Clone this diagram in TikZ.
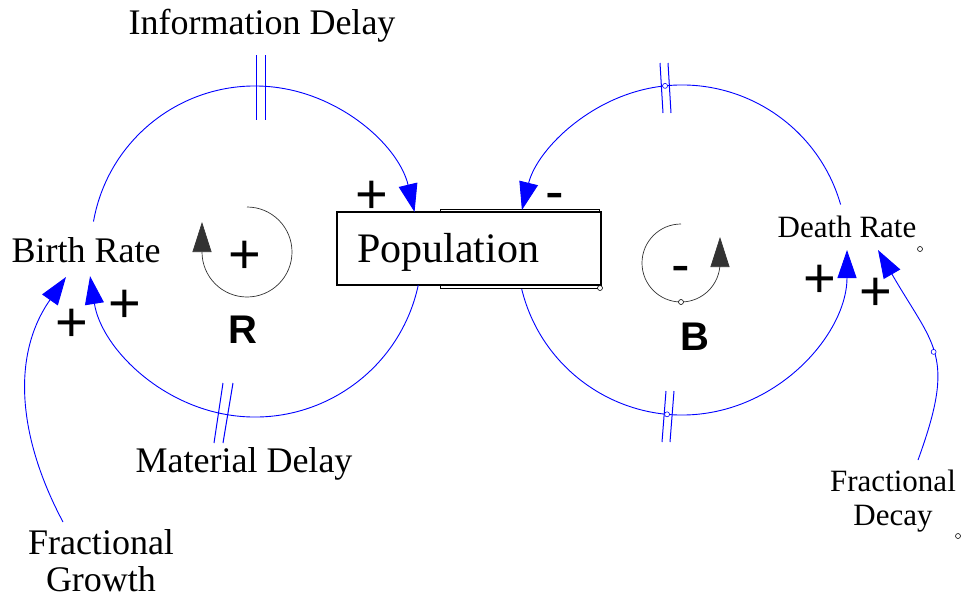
\documentclass[tikz,border=0pt]{standalone}
\usepackage{fontspec}
\setmainfont{Liberation Serif}
\newfontfamily\signfont{Liberation Sans}
\usetikzlibrary{arrows.meta,calc}

\begin{document}
\begin{tikzpicture}[x=1pt,y=1pt,
  link/.style={blue, line width=0.9pt, -{Triangle[length=28pt,width=19pt]}},
  delaymark/.style={blue, line width=1pt},
  lbl/.style={font=\fontsize{36}{37}\selectfont, inner sep=0pt, align=center},
  smalllbl/.style={font=\fontsize{31}{34}\selectfont, inner sep=0pt, align=center},
  sign/.style={font=\signfont\fontsize{56}{56}\selectfont, inner sep=0pt, anchor=base},
  loopname/.style={font=\signfont\bfseries\fontsize{40}{40}\selectfont, inner sep=0pt, anchor=base},
  looparrow/.style={black!80, line width=0.7pt, -{Triangle[length=30pt,width=19pt]}},
  handle/.style={draw=black, fill=white, circle, inner sep=0pt, minimum size=5pt, line width=0.6pt},
  bluehandle/.style={handle, draw=blue},
  popbox/.style={draw=black, line width=1.8pt, fill=white, minimum width=264pt, minimum height=73pt, inner sep=0pt},
]
\useasboundingbox (0,0) rectangle (963,-598);

% loop centres
\coordinate (Lc) at (255,-250);
\coordinate (Rc) at (682,-250);

% stock with its shadow box
\draw[line width=0.8pt] (440,-209) rectangle (599,-288);
\node[popbox] (pop) at (469,-248.5) {};
\node[font=\fontsize{42}{42}\selectfont, inner sep=0pt, anchor=base] (poptext) at (448,-262) {Population};
\node[handle] (pophandle) at (600,-288) {};

% variables
\node[lbl, anchor=base] (br) at (86,-262) {Birth Rate};
\node[smalllbl, anchor=base] (dr) at (847,-237) {Death Rate};
\node[lbl, anchor=base] (infod) at (262,-34) {Information Delay};
\node[lbl, anchor=base] (matd) at (244,-472) {Material Delay};
\node[lbl] (fg) at (101,-561) {Fractional\\Growth};
\node[smalllbl] (fd) at (893,-501) {Fractional\\Decay};
\node[handle] (drhandle) at (920,-249) {};
\node[handle] (fdhandle) at (958,-536) {};

% connector end points
\coordinate (brout) at ($(Lc)+(170:164)$);
\coordinate (popin) at ($(Lc)+(13.4:164)$);
\coordinate (popoutL) at ($(Lc)+(-12.1:167)$);
\coordinate (drout) at ($(Rc)+(16:165)$);
\coordinate (popinR) at ($(Rc)+(166:165)$);
\coordinate (popoutR) at ($(Rc)+(193.7:165)$);
\coordinate (fgout) at (63,-522);
\coordinate (brin) at (66,-277);
\coordinate (fdout) at (918,-460);
\coordinate (drin) at (878,-250);

% reinforcing loop
\draw[link] (brout) arc[start angle=170, end angle=13.4, radius=164];
\draw[link] (popoutL) arc[start angle=-12.1, end angle=-171, radius=167];
% balancing loop
\draw[link] (drout) arc[start angle=16, end angle=166, radius=165];
\draw[link] (popoutR) arc[start angle=193.7, end angle=360, radius=165];
% parameter links
\draw[link] (fgout) to[out=118, in=235] (brin);
\draw[link] (fdout) to[out=70, in=300, looseness=1.35] node[bluehandle, pos=0.5] (fdmid) {} (drin);

% delay marks
\draw[delaymark] (256,-55) -- (256,-120) (265,-55) -- (265,-120);
\draw[delaymark] (223,-383) -- (214,-443) (233,-383) -- (223,-443);
\draw[delaymark] (660,-63) -- (663,-113) (668,-63) -- (671,-113);
\draw[delaymark] (666,-391) -- (662,-442) (674,-391) -- (670,-442);
\node[bluehandle] (toph) at ($(Rc)+(95.9:165)$) {};
\node[bluehandle] (both) at ($(Rc)+(264.8:165)$) {};

% polarity signs
\node[sign] (s1) at (372,-213) {+};
\node[sign] (s2) at (555,-210) {-};
\node[sign] (s3) at (125,-322) {+};
\node[sign] (s4) at (72,-341) {+};
\node[sign] (s5) at (820,-297) {+};
\node[sign] (s6) at (876,-310) {+};

% loop identifiers
\draw[looparrow] (247,-207) arc[start angle=90, end angle=-180, radius=45] -- ++(0,30);
\node[sign] (rsign) at (245,-273) {+};
\node[loopname] (rname) at (243,-343) {R};
\draw[looparrow] (681,-224) arc[start angle=90, end angle=360, radius=39] -- ++(0,26);
\node[handle] (bhandle) at (681,-302) {};
\node[sign] (bsign) at (681,-283) {-};
\node[loopname] (bname) at (695,-350) {B};
\end{tikzpicture}
\end{document}
